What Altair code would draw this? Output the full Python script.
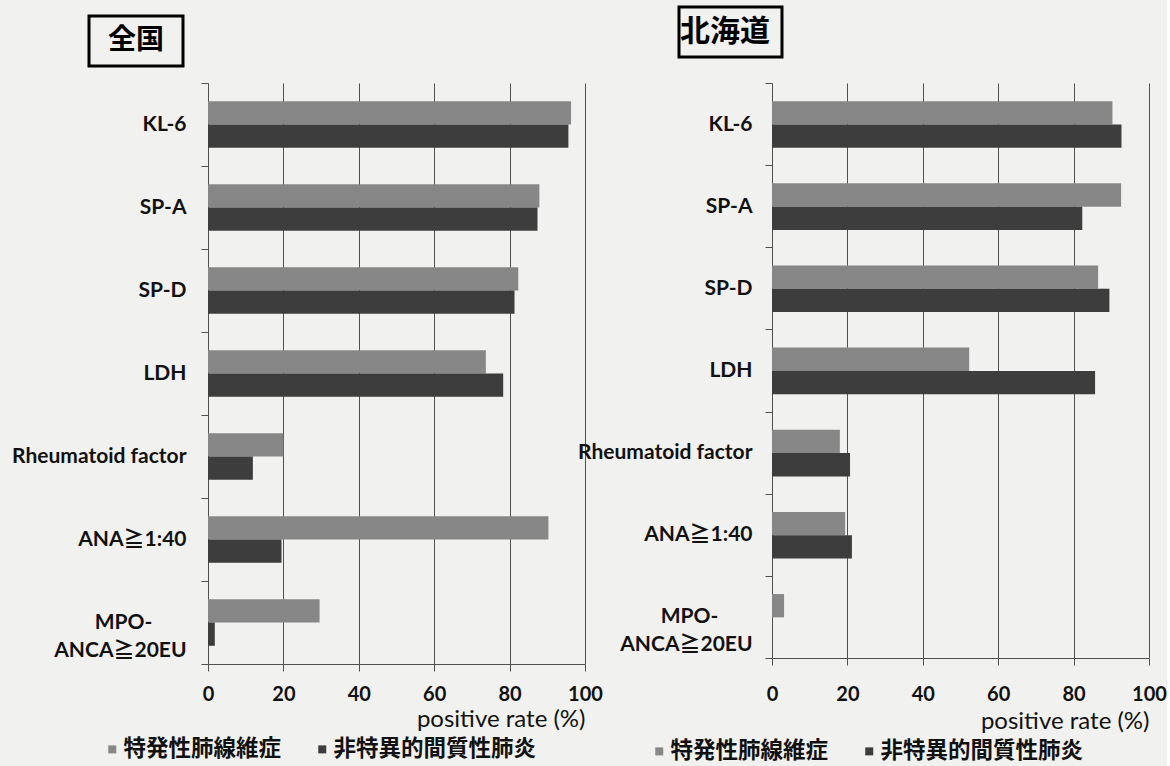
import altair as alt
import pandas as pd

# ---- data ----
categories = ["KL-6", "SP-A", "SP-D", "LDH", "Rheumatoid factor", "ANA≧1:40", "MPO-ANCA≧20EU"]
series = ["特発性肺線維症", "非特異的間質性肺炎"]

zenkoku_ipf = [96.3, 87.9, 82.3, 73.7, 20.0, 90.3, 29.6]
zenkoku_nsip = [95.6, 87.4, 81.3, 78.3, 11.9, 19.5, 1.8]
hokkaido_ipf = [90.3, 92.6, 86.5, 52.3, 18.0, 19.4, 3.2]
hokkaido_nsip = [92.7, 82.3, 89.5, 85.7, 20.7, 21.2, 0.0]

x_ticks = [0, 20, 40, 60, 80, 100]
panel_titles = ["全国", "北海道"]
x_title = "positive rate (%)"

LIGHT = "#878787"
DARK = "#3d3d3d"
GRID = "#505050"
LATIN = "Lato, Noto Sans CJK JP"
CJK = "Noto Sans CJK JP"

# the first line of the two-line label is centred over the second one
PAD = "\u3000\u2002\u2009\u200b"
label_expr = ("datum.label == 'MPO-ANCA≧20EU' ? ['MPO-" + PAD + "', 'ANCA≧20EU'] : datum.label")


def make_df(a, b):
    rows = []
    for c, v in zip(categories, a):
        rows.append({"category": c, "series": series[0], "value": v})
    for c, v in zip(categories, b):
        rows.append({"category": c, "series": series[1], "value": v})
    return pd.DataFrame(rows)


def panel(df, title, height, box, text_xy, title_size, legend_x, legend_y,
          x_label_pad, x_title_y, y_label_pad):
    bars = alt.Chart(df).mark_bar().encode(
        x=alt.X("value:Q",
                scale=alt.Scale(domain=[0, 100], nice=False, zero=True),
                axis=alt.Axis(values=x_ticks, grid=True, gridColor=GRID, gridWidth=1,
                              gridOpacity=1, domainColor=GRID, tickColor=GRID,
                              tickSize=7, labelPadding=x_label_pad,
                              labelFont=LATIN, labelFontSize=20, labelFontWeight="bold",
                              labelColor="#111", labelFlush=False,
                              title=x_title, titleFont=LATIN, titleFontSize=24,
                              titleFontWeight="normal", titleColor="#111",
                              titleAnchor="end", titleAlign="right",
                              titleBaseline="alphabetic", titleX=377, titleY=x_title_y)),
        y=alt.Y("category:N", sort=categories,
                scale=alt.Scale(paddingInner=0, paddingOuter=0),
                axis=alt.Axis(title=None, tickBand="extent", grid=False,
                              domainColor=GRID, tickColor=GRID, tickSize=7,
                              labelPadding=y_label_pad, labelFont=LATIN,
                              labelFontSize=21, labelFontWeight="bold",
                              labelColor="#111", labelLineHeight=28,
                              labelLimit=300, labelExpr=label_expr)),
        yOffset=alt.YOffset("series:N", sort=series,
                            scale=alt.Scale(paddingInner=0, paddingOuter=0.78)),
        color=alt.Color("series:N", sort=series,
                        scale=alt.Scale(domain=series, range=[LIGHT, DARK]),
                        legend=alt.Legend(orient="none", legendX=legend_x, legendY=legend_y,
                                          direction="horizontal", title=None,
                                          symbolType="square", symbolSize=64,
                                          symbolStrokeWidth=0, symbolOpacity=1,
                                          labelFont=CJK, labelFontSize=22.5,
                                          labelFontWeight="bold", labelColor="#111",
                                          labelOffset=0, columnPadding=29, padding=0,
                                          labelLimit=400)),
    ).properties(width=377, height=height)

    tdf = pd.DataFrame({"t": [title]})
    rect = alt.Chart(tdf).mark_rect(fill="transparent", stroke="#000", strokeWidth=3).encode(
        x=alt.value(box[0]), x2=alt.value(box[1]), y=alt.value(box[2]), y2=alt.value(box[3]))
    txt = alt.Chart(tdf).mark_text(font=CJK, fontSize=title_size, fontWeight="bold",
                                   color="#000", align="center", baseline="middle").encode(
        text="t:N", x=alt.value(text_xy[0]), y=alt.value(text_xy[1]))
    return alt.layer(bars, rect, txt)


left = panel(make_df(zenkoku_ipf, zenkoku_nsip), panel_titles[0], 581,
             (-119, -25, -67, -17), (-72, -42), 28, -107, 655, 13, 62, 15)
right = panel(make_df(hokkaido_ipf, hokkaido_nsip), panel_titles[1], 575,
              (-93, 10, -76, -26), (-47, -51), 30, -124, 657, 19, 70, 13)

chart = alt.hconcat(left, right, spacing=187, bounds="flush").resolve_scale(
    color="independent"
).properties(
    padding={"left": 11, "top": 5, "right": 0, "bottom": 10},
    background="#f1f1ef",
).configure_view(stroke=None)

chart.save("out.html", embed_options={"renderer": "svg", "actions": False})
